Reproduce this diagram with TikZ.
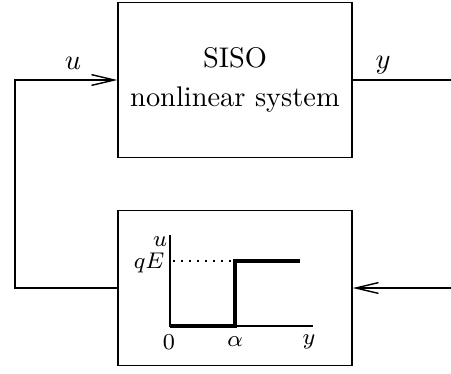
\documentclass[tikz,border=0pt]{standalone}
\usetikzlibrary{arrows.meta}
\begin{document}
\begin{tikzpicture}[x=0.352pt, y=-0.352pt,
    blk/.style={draw, line width=0.5pt, minimum width=234*0.352pt, minimum height=155*0.352pt, inner sep=0pt},
    sig/.style={line width=0.5pt},
    tip/.style={-{Straight Barb[length=8pt, width=3.8pt, line width=0.5pt]}},
    lbl/.style={font=\footnotesize, inner sep=0pt}]
    \useasboundingbox (0,0) rectangle (451,373);

    % Blocks
    \node[blk, align=center] (sys) at (235,80) {SISO\\[2pt]nonlinear system};
    \node[blk] (relay) at (235,288) {};

    % Free ends and corner
    \coordinate (uc) at (15,288);
    \coordinate (yout) at (451,80);
    \coordinate (yin) at (451,288);

    % Loop
    \draw[sig, tip] (relay.west) -- (uc) |- (sys.west);
    \draw[sig] (sys.east) -- (yout);
    \draw[sig, tip] (yin) -- (relay.east);
    \node (ulbl) at (73,63) {$u$};
    \node (ylbl) at (383,65) {$y$};

    % Relay characteristic
    \draw[line width=0.5pt] (170,235) -- (170,326) -- (313,326);
    \draw[dash pattern=on 0.8pt off 2pt, line width=0.5pt] (173,261) -- (235,261);
    \draw[line width=1.1pt] (170,326) -- (235,326) -- (235,261) -- (300,261);
    \node[lbl] (au) at (160,242) {$u$};
    \node[lbl, anchor=east] (aqe) at (165,263) {$qE$};
    \node[lbl] (a0) at (169,342) {$0$};
    \node[lbl] (aal) at (235,342) {$\alpha$};
    \node[lbl] (ay) at (309,342) {$y$};
\end{tikzpicture}
\end{document}
